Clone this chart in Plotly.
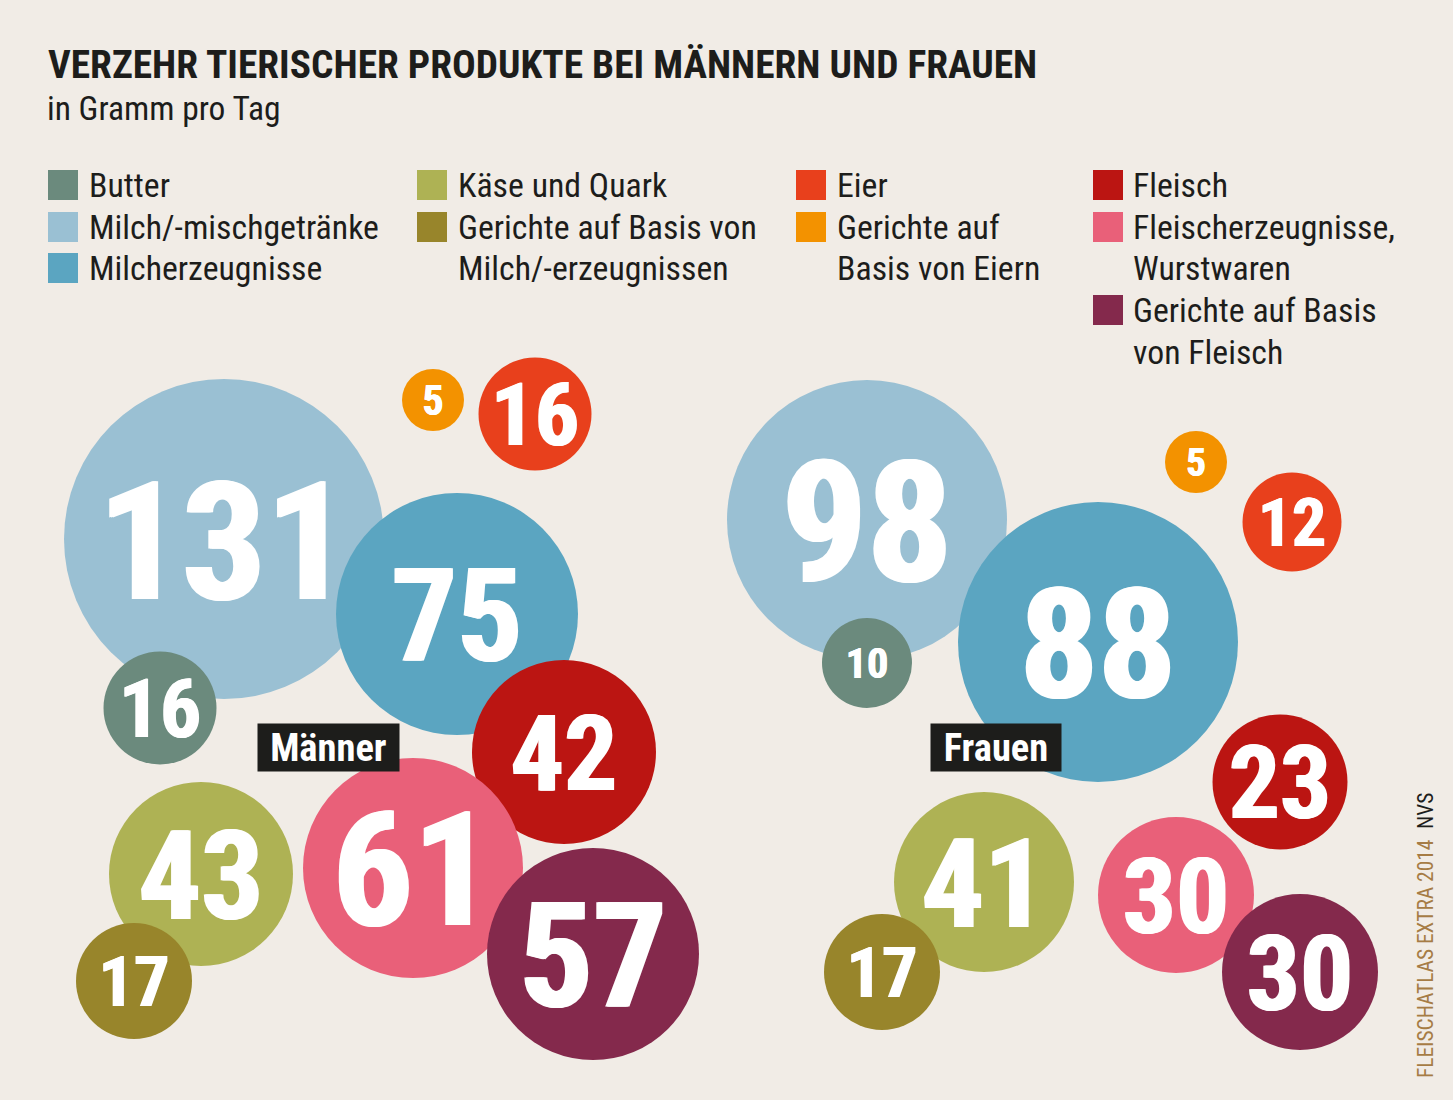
import plotly.graph_objects as go

# ---- data ----
categories = ["Milch/-mischgetränke", "Milcherzeugnisse", "Fleisch", "Fleischerzeugnisse, Wurstwaren",
              "Gerichte auf Basis von Fleisch", "Butter", "Käse und Quark",
              "Gerichte auf Basis von Milch/-erzeugnissen", "Gerichte auf Basis von Eiern", "Eier"]
maenner = [131, 75, 42, 61, 57, 16, 43, 17, 5, 16]
frauen = [98, 88, 23, 30, 30, 10, 41, 17, 5, 12]

# ---- layout of the picture (pixel positions, style) ----
colors = ["#9ac0d3", "#5ba5c1", "#bb1512", "#e96079", "#84294c", "#6b8a7d", "#aeb254", "#98852b", "#f39200", "#e8401c"]
m_x = [224, 457, 564, 413, 593, 160, 201, 134, 433, 535]
m_y = [539, 614, 752, 868, 954, 708, 874, 981, 400, 414]
m_d = [320, 242, 184, 220, 212, 113, 184, 116, 62, 113]
m_digit = [118, 92, 75, 113, 104, 58, 88, 50, 30, 62]
f_x = [867, 1098, 1280, 1176, 1300, 867, 984, 882, 1196, 1292]
f_y = [520, 642, 782, 895, 972, 663, 882, 972, 462, 522]
f_d = [280, 280, 135, 156, 156, 90, 180, 116, 62, 99]
f_digit = [120, 110, 72, 75, 75, 30, 88, 50, 28, 48]

BG = "#f1ece6"
INK = "#1d1d1b"
FONT = "Roboto Condensed"
CAP = 0.711
LIFT = 0.155  # text baseline correction, as a share of digit height

legend_sq = [("#6b8a7d", 48, 185), ("#9ac0d3", 48, 227), ("#5ba5c1", 48, 268),
             ("#aeb254", 417, 185), ("#98852b", 417, 227),
             ("#e8401c", 796, 185), ("#f39200", 796, 227),
             ("#bb1512", 1093, 185), ("#e96079", 1093, 227), ("#84294c", 1093, 310)]
legend_txt = [("Butter", 87, 185), ("Milch/-mischgetränke", 87, 227), ("Milcherzeugnisse", 87, 268),
              ("Käse und Quark", 456, 185), ("Gerichte auf Basis von", 456, 227), ("Milch/-erzeugnissen", 456, 268),
              ("Eier", 835, 185), ("Gerichte auf", 835, 227), ("Basis von Eiern", 835, 268),
              ("Fleisch", 1131, 185), ("Fleischerzeugnisse,", 1131, 227), ("Wurstwaren", 1131, 268),
              ("Gerichte auf Basis", 1131, 310), ("von Fleisch", 1131, 352)]


def bubbles(name, vals, xs, ys, ds):
    return go.Scatter(
        name=name, x=xs, y=ys, mode="markers", customdata=categories, text=[str(v) for v in vals],
        marker=dict(size=ds, color=colors, line=dict(width=0), opacity=1),
        hovertemplate="%{customdata}: %{text} g<extra>" + name + "</extra>",
        cliponaxis=False, showlegend=False)


def labels(vals, xs, ys, digits):
    return go.Scatter(
        x=xs, y=[y + LIFT * h for y, h in zip(ys, digits)], mode="text",
        text=[str(v) for v in vals], textposition="middle center",
        textfont=dict(family=FONT, color="white", size=[h / CAP for h in digits], weight="bold",
                      shadow=["{0:.1f}px 0 0 white,-{0:.1f}px 0 0 white".format(h / 70) for h in digits]),
        hoverinfo="skip", cliponaxis=False, showlegend=False)


fig = go.Figure()
fig.add_trace(bubbles("Männer", maenner, m_x, m_y, m_d))
fig.add_trace(bubbles("Frauen", frauen, f_x, f_y, f_d))
fig.add_trace(labels(maenner, m_x, m_y, m_digit))
fig.add_trace(labels(frauen, f_x, f_y, f_digit))
fig.add_trace(go.Scatter(
    x=[s[1] + 15 for s in legend_sq], y=[s[2] for s in legend_sq], mode="markers",
    marker=dict(symbol="square", size=30, color=[s[0] for s in legend_sq], line=dict(width=0)),
    hoverinfo="skip", showlegend=False))

ann = []


def note(text, x, y, size, color=INK, bold=False, anchor="left", **kw):
    ann.append(dict(text=text, x=x, y=y, xref="x", yref="y", xanchor=anchor, yanchor="middle",
                    showarrow=False, font=dict(family=FONT, size=size, color=color,
                                               weight="bold" if bold else "normal"), **kw))


note("VERZEHR TIERISCHER PRODUKTE BEI MÄNNERN UND FRAUEN", 46, 64, 39.4, bold=True)
note("in Gramm pro Tag", 45, 108, 33.5)
for t, x, y in legend_txt:
    note(t, x, y, 33.8)
note("Männer", 328.5, 747, 38.5, color="white", bold=True, anchor="center", bgcolor=INK, width=141, height=47, borderpad=0)
note("Frauen", 996, 747, 38.5, color="white", bold=True, anchor="center", bgcolor=INK, width=130, height=47, borderpad=0)
note("FLEISCHATLAS EXTRA 2014", 1425, 959, 21.4, color="#a67c45", anchor="center", textangle=-90)
note("NVS", 1425, 811, 21.4, anchor="center", textangle=-90)

fig.update_layout(
    width=1453, height=1100, margin=dict(l=0, r=0, t=0, b=0),
    paper_bgcolor=BG, plot_bgcolor=BG,
    xaxis=dict(range=[0, 1453], visible=False, fixedrange=True),
    yaxis=dict(range=[1100, 0], visible=False, fixedrange=True),
    annotations=ann)

fig.write_html("out.html", config=dict(displayModeBar=False),
               post_script="document.body.style.margin='0';")
